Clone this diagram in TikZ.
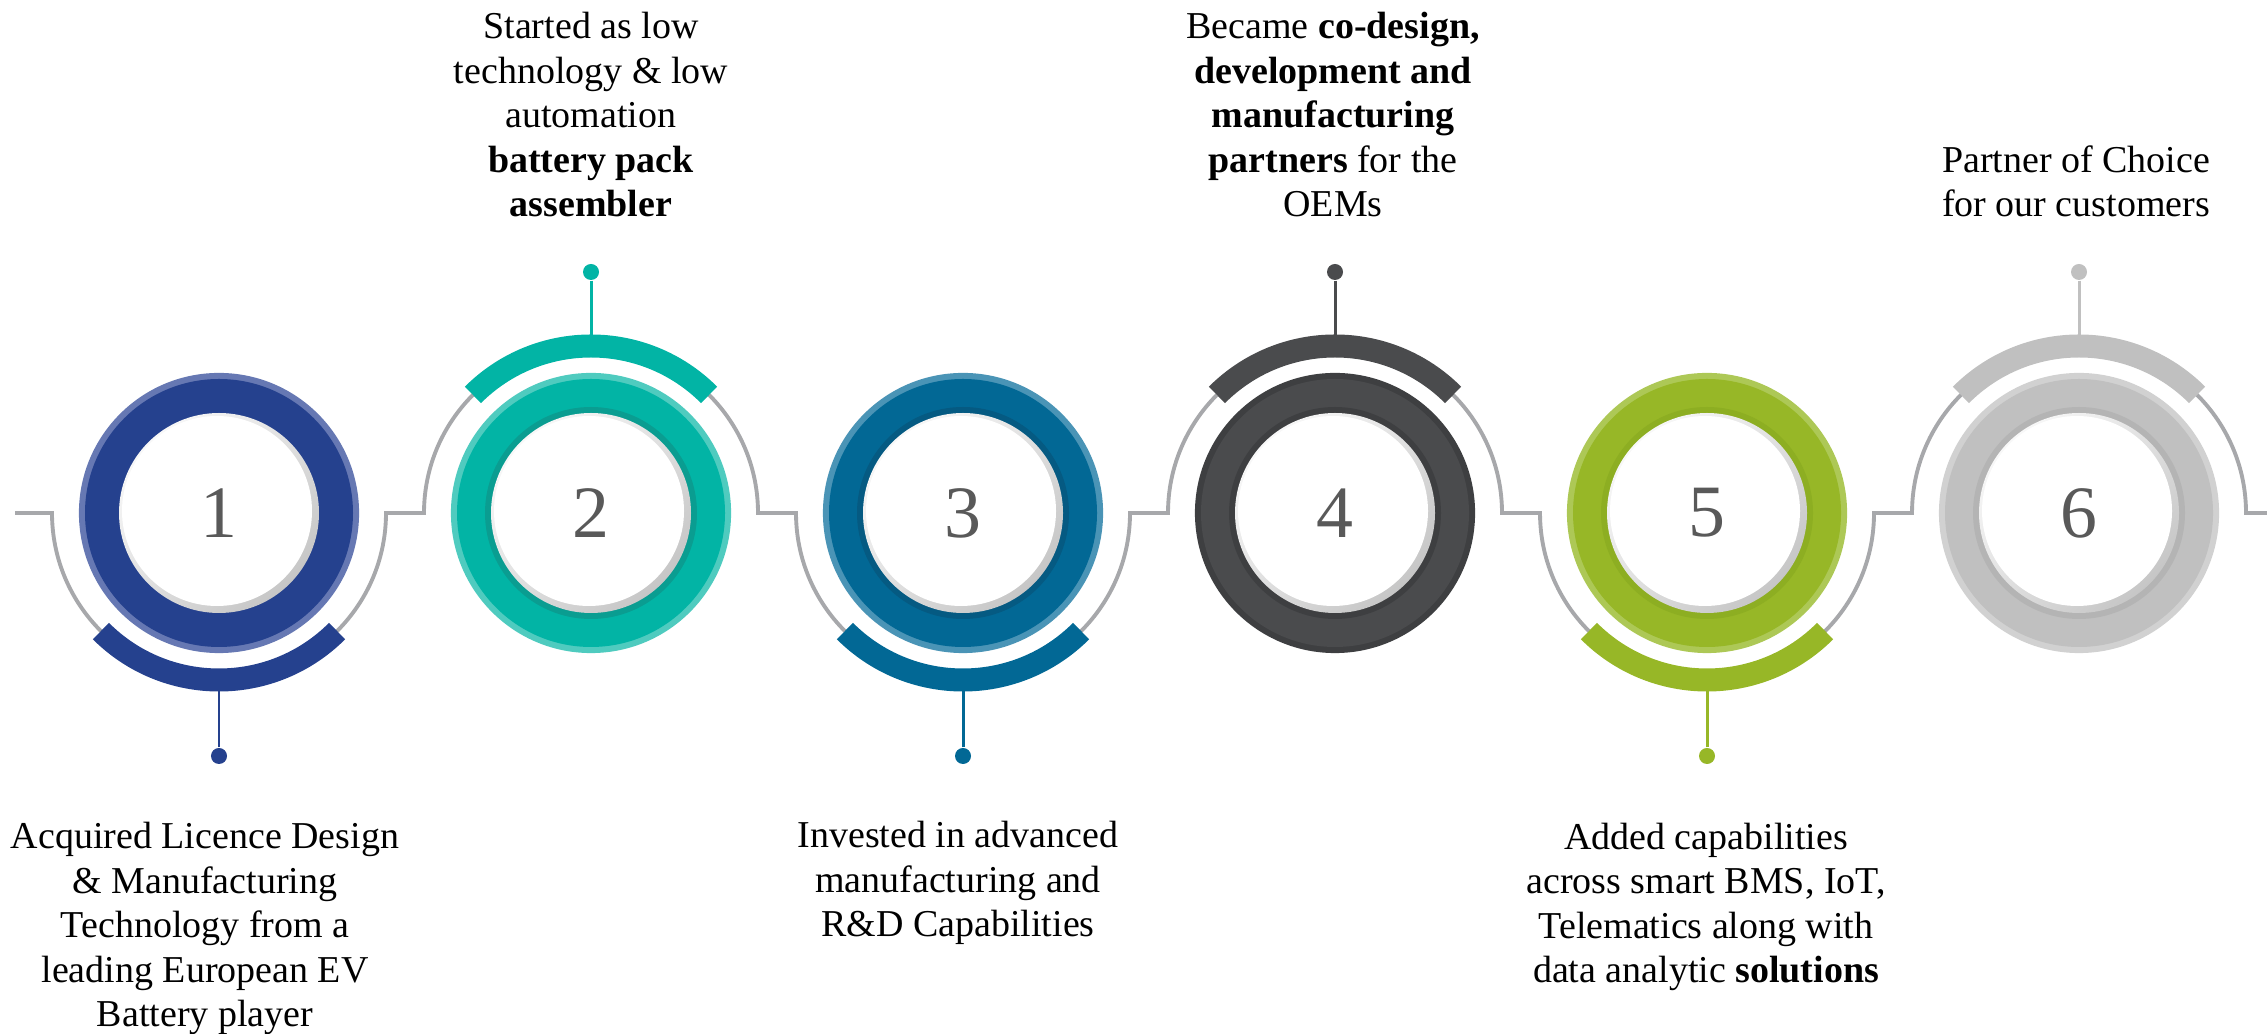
\documentclass[tikz,border=0pt]{standalone}
\usepackage{fontspec}
\setmainfont{Liberation Serif}
\usetikzlibrary{calc}

\definecolor{track}{HTML}{A7A8AB}
\definecolor{numgrey}{HTML}{595959}
\definecolor{rimlight}{HTML}{F8F8F8}
\definecolor{rimdark}{HTML}{C6C6C6}
\definecolor{blueA}{HTML}{25418E}
\definecolor{blueB}{HTML}{6678B3}
\definecolor{tealA}{HTML}{02B4A5}
\definecolor{tealB}{HTML}{4FCBBF}
\definecolor{tealC}{HTML}{0A9D91}
\definecolor{petrolA}{HTML}{026895}
\definecolor{petrolB}{HTML}{4A94B6}
\definecolor{petrolC}{HTML}{055A82}
\definecolor{darkA}{HTML}{4A4B4D}
\definecolor{darkB}{HTML}{3E3F41}
\definecolor{limeA}{HTML}{97B727}
\definecolor{limeB}{HTML}{ADC856}
\definecolor{limeC}{HTML}{8DAE22}
\definecolor{silverA}{HTML}{C0C0C0}
\definecolor{silverB}{HTML}{D1D1D1}
\definecolor{silverC}{HTML}{B4B4B4}

\begin{document}
\begin{tikzpicture}[%
  x = 0.01cm, y = 0.01cm,
  ring/.style n args = {3}{circle, inner sep = 0pt, minimum size = 2.8cm, fill = #2,
    text = numgrey, font = \fontsize{21}{21}\selectfont,
    path picture = {
      \fill[#1] (path picture bounding box.center) circle (134);
      \fill[#3] (path picture bounding box.center) circle (106);
      \shade[top color = rimlight, bottom color = rimdark, shading angle = 45]
        (path picture bounding box.center) circle (100);
      \fill[white] ([shift = {(-2, 2)}] path picture bounding box.center) circle (95);
    }},
  halo/.style = {line width = 0.23cm},
  stem/.style = {line width = 0.85pt, shorten > = 0.3cm},
  pindot/.style = {circle, fill = #1, inner sep = 0pt, minimum size = 0.16cm},
  caption/.style = {align = center, inner sep = 0pt, anchor = base,
    font = \fontsize{10.8}{12.66}\selectfont}]
  \useasboundingbox (0, -521) rectangle (2267, 513);

  \draw[track, line width = 1.1pt]
    (15, 0) -- (52, 0) arc[start angle = 180, end angle = 360, radius = 167]
    -- (424, 0) arc[start angle = 180, end angle = 0, radius = 167]
    -- (796, 0) arc[start angle = 180, end angle = 360, radius = 167]
    -- (1168, 0) arc[start angle = 180, end angle = 0, radius = 167]
    -- (1540, 0) arc[start angle = 180, end angle = 360, radius = 167]
    -- (1912, 0) arc[start angle = 180, end angle = 0, radius = 167]
    -- (2267, 0);

  \node[ring = {blueA}{blueB}{blueA}]        (s1) at (219, 0)  {1};
  \node[ring = {tealA}{tealB}{tealC}]        (s2) at (591, 0)  {2};
  \node[ring = {petrolA}{petrolB}{petrolC}]  (s3) at (963, 0)  {3};
  \node[ring = {darkA}{darkB}{darkB}]        (s4) at (1335, 0) {4};
  \node[ring = {limeA}{limeB}{limeC}]        (s5) at (1707, 0) {5};
  \node[ring = {silverA}{silverB}{silverC}]  (s6) at (2079, 0) {6};

  \node[pindot = blueA]   (d1) at (219, -243)  {};
  \node[pindot = tealA]   (d2) at (591, 241)   {};
  \node[pindot = petrolA] (d3) at (963, -243)  {};
  \node[pindot = darkA]   (d4) at (1335, 241)  {};
  \node[pindot = limeA]   (d5) at (1707, -243) {};
  \node[pindot = silverA] (d6) at (2079, 241)  {};

  \draw[stem, blueA]   (d1) -- (s1);
  \draw[stem, tealA]   (d2) -- (s2);
  \draw[stem, petrolA] (d3) -- (s3);
  \draw[stem, darkA]   (d4) -- (s4);
  \draw[stem, limeA]   (d5) -- (s5);
  \draw[stem, silverA] (d6) -- (s6);

  \draw[halo, blueA]   ([shift = {(225:167)}] s1.center) arc[start angle = 225, end angle = 315, radius = 167];
  \draw[halo, tealA]   ([shift = {(45:167)}] s2.center)  arc[start angle = 45, end angle = 135, radius = 167];
  \draw[halo, petrolA] ([shift = {(225:167)}] s3.center) arc[start angle = 225, end angle = 315, radius = 167];
  \draw[halo, darkA]   ([shift = {(45:167)}] s4.center)  arc[start angle = 45, end angle = 135, radius = 167];
  \draw[halo, limeA]   ([shift = {(225:167)}] s5.center) arc[start angle = 225, end angle = 315, radius = 167];
  \draw[halo, silverA] ([shift = {(45:167)}] s6.center)  arc[start angle = 45, end angle = 135, radius = 167];

  \node[caption] (t1) at (205, -514) {Acquired Licence Design\\ \& Manufacturing\\ Technology from a\\ leading European EV\\ Battery player};
  \node[caption] (t2) at (591, 296) {Started as low\\ technology \& low\\ automation\\ \textbf{battery pack}\\ \textbf{assembler}};
  \node[caption] (t3) at (958, -424) {Invested in advanced\\ manufacturing and\\ R\&D Capabilities};
  \node[caption] (t4) at (1333, 296) {Became \textbf{co-design,}\\ \textbf{development and}\\ \textbf{manufacturing}\\ \textbf{partners} for the\\ OEMs};
  \node[caption] (t5) at (1706, -470) {Added capabilities\\ across smart BMS, IoT,\\ Telematics along with\\ data analytic \textbf{solutions}};
  \node[caption] (t6) at (2076, 296) {Partner of Choice\\ for our customers};
\end{tikzpicture}
\end{document}
